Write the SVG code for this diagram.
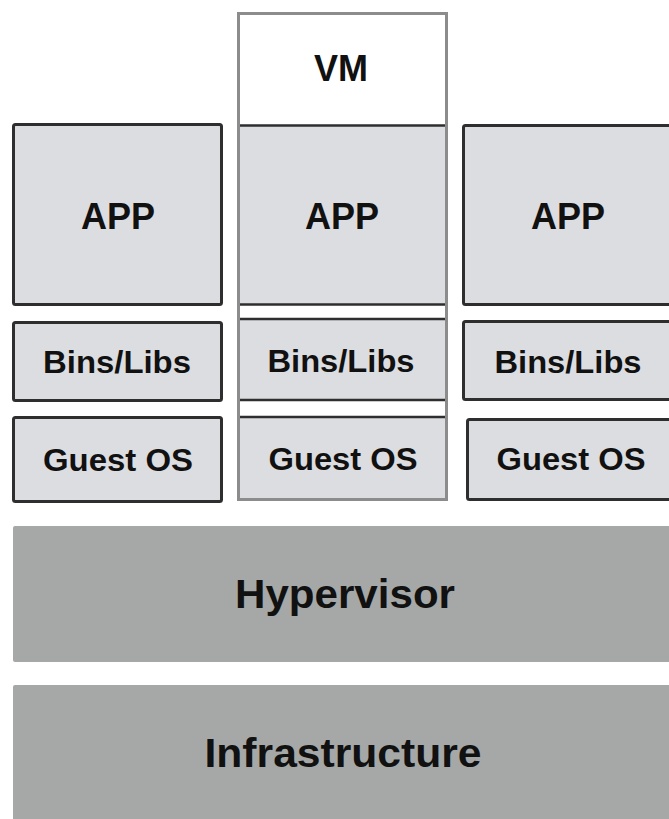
<svg xmlns="http://www.w3.org/2000/svg" width="669" height="819" viewBox="0 0 669 819">
  <style>
    .box { fill: #dcdde0; stroke: #2e2e2e; stroke-width: 3; }
    .layer { fill: #a6a8a7; }
    .frame { fill: #ffffff; stroke: #8c8c8c; stroke-width: 3; }
    .inner { fill: #dcdde0; }
    .sep { stroke: #2e2e2e; stroke-width: 2.5; }
    text { font-family: "Liberation Sans", Arial, Helvetica, sans-serif; font-weight: bold; fill: #111111; text-anchor: middle; }
    .big { font-size: 36px; }
    .mid { font-size: 31px; }
    .layerText { font-size: 41px; }
  </style>

  <g id="app-left">
    <rect class="box" x="13.5" y="124.5" width="208" height="180" rx="2"/>
    <text class="big" x="118" y="229">APP</text>
  </g>
  <g id="bins-left">
    <rect class="box" x="13.5" y="322.5" width="208" height="78" rx="2"/>
    <text class="mid" x="117" y="373" textLength="148" lengthAdjust="spacingAndGlyphs">Bins/Libs</text>
  </g>
  <g id="guest-left">
    <rect class="box" x="13.5" y="417.5" width="208" height="84" rx="2"/>
    <text class="mid" x="118" y="471" textLength="150" lengthAdjust="spacingAndGlyphs">Guest OS</text>
  </g>

  <g id="vm">
    <rect class="frame" x="238.5" y="13.5" width="208" height="486"/>
    <rect class="inner" x="240" y="126" width="205" height="178"/>
    <rect class="inner" x="240" y="320" width="205" height="79"/>
    <rect class="inner" x="240" y="418" width="205" height="80"/>
    <line class="sep" x1="240" y1="125.5" x2="445" y2="125.5"/>
    <line class="sep" x1="240" y1="304.5" x2="445" y2="304.5"/>
    <line class="sep" x1="240" y1="319" x2="445" y2="319"/>
    <line class="sep" x1="240" y1="400" x2="445" y2="400"/>
    <line class="sep" x1="240" y1="417" x2="445" y2="417"/>
    <rect x="238.5" y="13.5" width="208" height="486" fill="none" stroke="#8c8c8c" stroke-width="3"/>
    <text class="big" x="341" y="81">VM</text>
  </g>
  <g id="app-mid">
    <text class="big" x="342" y="229">APP</text>
  </g>
  <g id="bins-mid">
    <text class="mid" x="341" y="372" textLength="147" lengthAdjust="spacingAndGlyphs">Bins/Libs</text>
  </g>
  <g id="guest-mid">
    <text class="mid" x="343" y="470" textLength="149" lengthAdjust="spacingAndGlyphs">Guest OS</text>
  </g>

  <g id="app-right">
    <rect class="box" x="463.5" y="125.5" width="230" height="179" rx="2"/>
    <text class="big" x="568" y="229">APP</text>
  </g>
  <g id="bins-right">
    <rect class="box" x="463.5" y="321.5" width="230" height="78" rx="2"/>
    <text class="mid" x="568" y="373" textLength="147" lengthAdjust="spacingAndGlyphs">Bins/Libs</text>
  </g>
  <g id="guest-right">
    <rect class="box" x="467.5" y="419.5" width="230" height="80" rx="2"/>
    <text class="mid" x="571" y="470" textLength="149" lengthAdjust="spacingAndGlyphs">Guest OS</text>
  </g>

  <g id="hypervisor">
    <rect class="layer" x="13" y="526" width="670" height="136" rx="2"/>
    <text class="layerText" x="345" y="608" textLength="220" lengthAdjust="spacingAndGlyphs">Hypervisor</text>
  </g>
  <g id="infrastructure">
    <rect class="layer" x="13" y="685" width="670" height="150" rx="2"/>
    <text class="layerText" x="343" y="767" textLength="277" lengthAdjust="spacingAndGlyphs">Infrastructure</text>
  </g>

  <g id="connectors"/>
</svg>
